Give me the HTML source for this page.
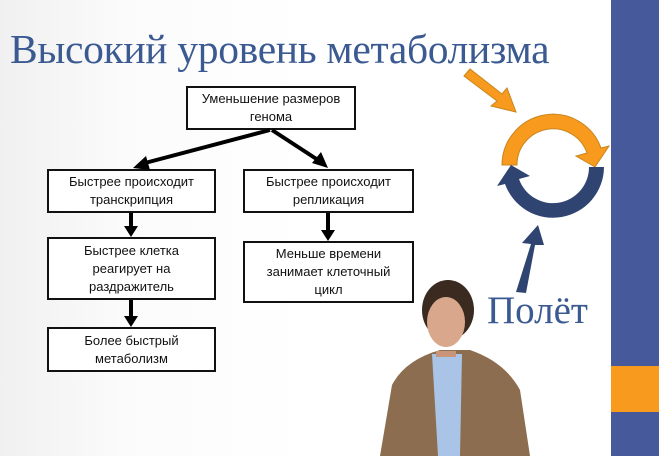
<!DOCTYPE html>
<html><head><meta charset="utf-8"><style>
body{margin:0;width:659px;height:456px;overflow:hidden;background:#fff;position:relative;font-family:"Liberation Sans",sans-serif}
.bg{position:absolute;left:0;top:0;width:611px;height:456px;background:linear-gradient(90deg,#f0f0f0 0%,#fbfbfb 20%,#fff 50%,#fff 100%)}
.bar{position:absolute;left:611px;top:0;width:48px;height:456px;background:#46599a}
.or{position:absolute;left:611px;top:366px;width:48px;height:46px;background:#f79a1e}
.t{position:absolute;left:10px;top:25px;font-family:"Liberation Serif",serif;font-size:41.5px;color:#3b5a92;white-space:nowrap;letter-spacing:-0.3px}
.p{position:absolute;left:487px;top:288px;font-family:"Liberation Serif",serif;font-size:39px;color:#3b5a92}
.b{position:absolute;border:2px solid #111;background:#fff;box-sizing:border-box;display:flex;align-items:center;justify-content:center;text-align:center;font-size:13px;line-height:18px;color:#111}
</style></head><body>
<div class="bg"></div><div class="bar"></div><div class="or"></div>
<div class="t">Высокий уровень метаболизма</div>
<div class="b" style="left:186px;top:86px;width:170px;height:44px">Уменьшение размеров<br>генома</div>
<div class="b" style="left:47px;top:169px;width:169px;height:44px">Быстрее происходит<br>транскрипция</div>
<div class="b" style="left:243px;top:169px;width:171px;height:44px">Быстрее происходит<br>репликация</div>
<div class="b" style="left:47px;top:237px;width:169px;height:63px">Быстрее клетка<br>реагирует на<br>раздражитель</div>
<div class="b" style="left:243px;top:241px;width:171px;height:62px">Меньше времени<br>занимает клеточный<br>цикл</div>
<div class="b" style="left:47px;top:327px;width:169px;height:45px">Более быстрый<br>метаболизм</div>
<svg width="659" height="456" style="position:absolute;left:0;top:0">
<g stroke="#000" stroke-width="4" fill="#000">
<line x1="270" y1="130" x2="145" y2="163"/><polygon points="133,168 146,156 150,170" stroke="none"/>
<line x1="272" y1="130" x2="318" y2="160"/><polygon points="328,168 312,163 321,152" stroke="none"/>
<line x1="131" y1="213" x2="131" y2="228"/><polygon points="124,226 138,226 131,237" stroke="none"/>
<line x1="328" y1="213" x2="328" y2="232"/><polygon points="321,230 335,230 328,241" stroke="none"/>
<line x1="131" y1="300" x2="131" y2="318"/><polygon points="124,316 138,316 131,327" stroke="none"/>
</g>
<polygon points="464,76 470,69 502,94 507,88 516,112 491,106 497,101" fill="#f79a1e" stroke="#c9861f" stroke-width="1"/>
<path d="M502,165 A51,51 0 0 1 601,148 L609,146 L595,167 L576,156 L587,153 A36,36 0 0 0 517,165 Z" fill="#f79a1e" stroke="#c9861f" stroke-width="1"/>
<path d="M604,167 A51,51 0 0 1 505,184 L497,186 L511,165 L530,176 L519,179 A36,36 0 0 0 589,167 Z" fill="#2f4470"/>
<polygon points="516,292 526,293 535,245 544,245 538,225 522,243 531,244" fill="#2f4470"/>
<path d="M380,456 L392,385 Q405,360 440,350 L470,350 Q505,362 520,390 L530,456 Z" fill="#8c6d4f"/>
<path d="M432,354 L462,354 L460,456 L438,456 Z" fill="#a9c4e6"/>
<ellipse cx="448" cy="310" rx="26" ry="30" fill="#3a2a20"/>
<ellipse cx="446" cy="322" rx="19" ry="25" fill="#d9a88c"/>
<rect x="436" y="351" width="20" height="6" fill="#c9957a"/>
</svg>
<div class="p">Полёт</div>
</body></html>
